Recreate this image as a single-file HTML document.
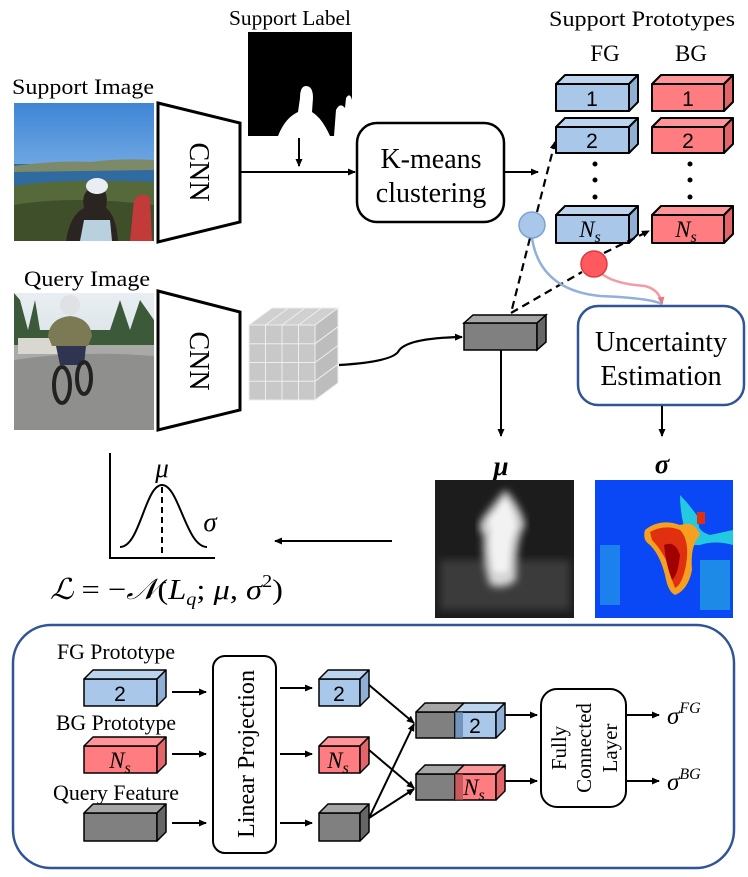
<!DOCTYPE html>
<html><head><meta charset="utf-8"><style>
html,body{margin:0;padding:0;background:#fff}
svg{display:block}
text{font-family:"Liberation Serif",serif;fill:#000}
.s{font-family:"Liberation Sans",sans-serif}
</style></head><body>
<svg width="748" height="877" viewBox="0 0 748 877" xmlns="http://www.w3.org/2000/svg">
<defs>
<marker id="a" markerWidth="8" markerHeight="8" refX="7" refY="4" orient="auto" markerUnits="userSpaceOnUse"><path d="M0,0.5 L8,4 L0,7.5 Z" fill="#000"/></marker>
<marker id="ab" markerWidth="8" markerHeight="8" refX="7" refY="4" orient="auto" markerUnits="userSpaceOnUse"><path d="M0,0.5 L8,4 L0,7.5 Z" fill="#e27b84"/></marker>
<filter id="bl"><feGaussianBlur stdDeviation="4"/></filter>
<filter id="bl2"><feGaussianBlur stdDeviation="2"/></filter>
<linearGradient id="sky" x1="0" y1="0" x2="0" y2="1"><stop offset="0" stop-color="#3f86d6"/><stop offset="1" stop-color="#a8cdf0"/></linearGradient>
<linearGradient id="qsky" x1="0" y1="0" x2="0" y2="1"><stop offset="0" stop-color="#e8eef2"/><stop offset="1" stop-color="#c9d3d8"/></linearGradient>
<clipPath id="c1"><rect x="14" y="103" width="140" height="138"/></clipPath>
<clipPath id="c2"><rect x="14" y="293" width="140" height="137"/></clipPath>
<clipPath id="c3"><rect x="435" y="480" width="139" height="138"/></clipPath>
<clipPath id="c4"><rect x="595" y="480" width="138" height="138"/></clipPath>
<clipPath id="c5"><rect x="248" y="32" width="104" height="104"/></clipPath>
</defs>

<!-- Top labels -->
<text x="229" y="25" font-size="21" textLength="122" lengthAdjust="spacingAndGlyphs">Support Label</text>
<text x="549" y="26" font-size="22" textLength="186" lengthAdjust="spacingAndGlyphs">Support Prototypes</text>
<text x="605" y="61" font-size="23" text-anchor="middle">FG</text>
<text x="691" y="61" font-size="23" text-anchor="middle">BG</text>
<text x="12" y="94" font-size="22" textLength="142" lengthAdjust="spacingAndGlyphs">Support Image</text>
<text x="24" y="286" font-size="22" textLength="126" lengthAdjust="spacingAndGlyphs">Query Image</text>

<!-- Support label mask -->
<g clip-path="url(#c5)">
<rect x="248" y="32" width="104" height="104" fill="#000"/>
<path d="M278,136 Q285,118 298,112 L300,98 Q300,86 306,86 Q313,86 313,98 L312,112 Q322,118 330,136 Z" fill="#fff"/>
<path d="M334,136 L336,110 Q340,102 345,108 L346,98 Q350,92 352,100 L352,136 Z" fill="#fff"/>
</g>

<!-- Support image -->
<g clip-path="url(#c1)">
<rect x="14" y="103" width="140" height="138" fill="url(#sky)"/>
<rect x="14" y="164" width="140" height="22" fill="#2f6aa0"/>
<path d="M14,166 Q60,160 90,162 Q120,158 154,160 L154,170 L14,172 Z" fill="#7d8a6a"/>
<path d="M14,186 Q60,178 154,182 L154,241 L14,241 Z" fill="#56693a"/>
<path d="M14,205 Q70,195 154,205 L154,241 L14,241 Z" fill="#3e4f2a"/>
<path d="M66,241 Q70,215 84,208 Q80,190 96,186 Q110,188 106,208 Q116,215 118,241 Z" fill="#2a2520"/>
<ellipse cx="97" cy="186" rx="11" ry="8" fill="#e8eef2"/>
<path d="M80,241 L84,220 L110,220 L112,241 Z" fill="#b9d0df"/>
<path d="M130,241 L134,200 Q142,190 150,198 L152,241 Z" fill="#c23a3a"/>
</g>

<!-- Query image -->
<g clip-path="url(#c2)">
<rect x="14" y="293" width="140" height="137" fill="url(#qsky)"/>
<path d="M14,293 L14,360 L154,360 L154,320 L140,300 L130,330 L120,300 L110,330 L40,330 L35,300 L28,330 L20,300 Z" fill="#3c5a3a"/>
<rect x="14" y="345" width="140" height="85" fill="#a9aaa8"/>
<path d="M14,360 Q80,350 154,356 L154,430 L14,430 Z" fill="#8f908e"/>
<rect x="18" y="338" width="40" height="16" fill="#d8d8d0"/>
<ellipse cx="70" cy="305" rx="10" ry="10" fill="#dfe1e5"/>
<path d="M48,336 Q50,318 70,316 Q90,318 92,336 L88,346 L52,346 Z" fill="#7b7a55"/>
<path d="M56,346 L86,346 L84,365 L60,365 Z" fill="#2f3550"/>
<ellipse cx="62" cy="385" rx="8" ry="18" fill="none" stroke="#222" stroke-width="4"/>
<ellipse cx="84" cy="378" rx="7" ry="16" fill="none" stroke="#222" stroke-width="4"/>
</g>

<!-- CNNs -->
<polygon points="158,103 240,123 240,222 158,242" fill="#fff" stroke="#000" stroke-width="3"/>
<text transform="translate(190,172) rotate(90)" font-size="28" text-anchor="middle">CNN</text>
<polygon points="158,291 240,312 240,410 158,430" fill="#fff" stroke="#000" stroke-width="3"/>
<text transform="translate(190,361) rotate(90)" font-size="28" text-anchor="middle">CNN</text>

<!-- Support arrows -->
<line x1="240" y1="172" x2="355" y2="172" stroke="#000" stroke-width="2" marker-end="url(#a)"/>
<line x1="299" y1="138" x2="299" y2="166" stroke="#000" stroke-width="2" marker-end="url(#a)"/>

<!-- K-means -->
<rect x="357" y="123" width="147" height="99" rx="20" fill="#fff" stroke="#000" stroke-width="2.5"/>
<text x="431" y="168" font-size="28" text-anchor="middle">K-means</text>
<text x="431" y="202" font-size="28" text-anchor="middle">clustering</text>
<line x1="504" y1="172" x2="538" y2="172" stroke="#000" stroke-width="2" marker-end="url(#a)"/>

<!-- FG prototypes -->
<g stroke="#000" stroke-width="2" stroke-linejoin="round">
<rect x="556" y="84" width="73" height="27" fill="#a9c7e8"/>
<polygon points="556,84 565,75 638,75 629,84" fill="#bcd4ee"/>
<polygon points="629,84 638,75 638,102 629,111" fill="#8fb0d4"/>
<rect x="556" y="127" width="73" height="26" fill="#a9c7e8"/>
<polygon points="556,127 565,118 638,118 629,127" fill="#bcd4ee"/>
<polygon points="629,127 638,118 638,144 629,153" fill="#8fb0d4"/>
<rect x="556" y="215" width="73" height="28" fill="#a9c7e8"/>
<polygon points="556,215 565,206 638,206 629,215" fill="#bcd4ee"/>
<polygon points="629,215 638,206 638,234 629,243" fill="#8fb0d4"/>
<rect x="652" y="84" width="72" height="27" fill="#ff7c80"/>
<polygon points="652,84 661,75 733,75 724,84" fill="#ff9598"/>
<polygon points="724,84 733,75 733,102 724,111" fill="#e36469"/>
<rect x="652" y="127" width="72" height="26" fill="#ff7c80"/>
<polygon points="652,127 661,118 733,118 724,127" fill="#ff9598"/>
<polygon points="724,127 733,118 733,144 724,153" fill="#e36469"/>
<rect x="652" y="215" width="72" height="28" fill="#ff7c80"/>
<polygon points="652,215 661,206 733,206 724,215" fill="#ff9598"/>
<polygon points="724,215 733,206 733,234 724,243" fill="#e36469"/>
</g>
<text class="s" x="592" y="106" font-size="21" text-anchor="middle">1</text>
<text class="s" x="592" y="148" font-size="21" text-anchor="middle">2</text>
<text class="s" x="688" y="106" font-size="21" text-anchor="middle">1</text>
<text class="s" x="688" y="148" font-size="21" text-anchor="middle">2</text>
<text x="590" y="237" font-size="23" font-style="italic" text-anchor="middle">N<tspan font-size="16" dy="5">s</tspan></text>
<text x="686" y="237" font-size="23" font-style="italic" text-anchor="middle">N<tspan font-size="16" dy="5">s</tspan></text>
<g fill="#000">
<circle cx="595" cy="164" r="2.5"/><circle cx="595" cy="180" r="2.5"/><circle cx="595" cy="197" r="2.5"/>
<circle cx="690" cy="164" r="2.5"/><circle cx="690" cy="180" r="2.5"/><circle cx="690" cy="197" r="2.5"/>
</g>

<!-- Dashed connectors -->
<g stroke="#000" stroke-width="2.2" stroke-dasharray="8,5" fill="none">
<line x1="537" y1="212" x2="555" y2="142" marker-end="url(#a)"/>
<line x1="530" y1="238" x2="511" y2="313"/>
<line x1="511" y1="313" x2="582" y2="272"/>
<line x1="604" y1="253" x2="649" y2="231" marker-end="url(#a)"/>
</g>
<path d="M532,238 Q540,290 600,296 Q650,298 662,304" fill="none" stroke="#92b0dc" stroke-width="2.5"/>
<path d="M602,274 Q615,284 645,286 Q660,290 662,304" fill="none" stroke="#f29ca3" stroke-width="2.5" marker-end="url(#ab)"/>
<circle cx="532" cy="225" r="13" fill="#a9c7e8" stroke="#7aa3d6" stroke-width="1.5"/>
<circle cx="594" cy="264" r="13" fill="#ff5a5f" stroke="#e03a40" stroke-width="1.5"/>

<!-- Uncertainty box -->
<rect x="578" y="306" width="166" height="99" rx="20" fill="#fff" stroke="#2f5597" stroke-width="2.5"/>
<text x="661" y="351" font-size="28" text-anchor="middle">Uncertainty</text>
<text x="661" y="385" font-size="28" text-anchor="middle">Estimation</text>
<line x1="662" y1="406" x2="662" y2="436" stroke="#000" stroke-width="2" marker-end="url(#a)"/>

<!-- Feature stack -->
<g stroke="#eee" stroke-width="1">
<polygon points="249,325 272,308 338,308 315,325" fill="#d0d0d0"/>
<polygon points="315,325 338,308 338,383 315,400" fill="#bdbdbd"/>
<rect x="249" y="325" width="66" height="75" fill="#c8c8c8"/>
<line x1="265.5" y1="325" x2="265.5" y2="400"/><line x1="282" y1="325" x2="282" y2="400"/><line x1="298.5" y1="325" x2="298.5" y2="400"/>
<line x1="249" y1="343.7" x2="315" y2="343.7"/><line x1="249" y1="362.5" x2="315" y2="362.5"/><line x1="249" y1="381.2" x2="315" y2="381.2"/>
<line x1="265.5" y1="325" x2="288.5" y2="308"/><line x1="282" y1="325" x2="305" y2="308"/><line x1="298.5" y1="325" x2="321.5" y2="308"/>
<line x1="315" y1="343.7" x2="338" y2="326.7"/><line x1="315" y1="362.5" x2="338" y2="345.5"/><line x1="315" y1="381.2" x2="338" y2="364.2"/>
</g>
<path d="M339,365 Q390,362 398,352 Q405,338 462,337" fill="none" stroke="#000" stroke-width="2.2" marker-end="url(#a)"/>

<!-- Query feature gray box -->
<g stroke="#000" stroke-width="1.5">
<rect x="464" y="323" width="73" height="27" fill="#808080"/>
<polygon points="464,323 473,315 546,315 537,323" fill="#a6a6a6"/>
<polygon points="537,323 546,315 546,342 537,350" fill="#666"/>
</g>
<line x1="501" y1="350" x2="501" y2="436" stroke="#000" stroke-width="2" marker-end="url(#a)"/>

<!-- mu & sigma maps -->
<text x="501" y="475" font-size="27" font-weight="bold" font-style="italic" text-anchor="middle">μ</text>
<text x="662" y="473" font-size="27" font-weight="bold" font-style="italic" text-anchor="middle">σ</text>
<g clip-path="url(#c3)">
<rect x="435" y="480" width="139" height="138" fill="#1c1c1c"/>
<rect x="440" y="560" width="130" height="50" fill="#3a3a3a" filter="url(#bl)"/>
<path d="M505,490 Q520,505 525,525 Q515,540 516,580 Q505,590 490,585 Q482,560 484,535 Q475,528 485,515 Z" fill="#d8d8d8" filter="url(#bl)"/>
<path d="M505,500 Q515,515 515,528 Q508,540 508,570 Q500,575 494,570 Q490,545 492,530 Q486,522 495,514 Z" fill="#f2f2f2" filter="url(#bl2)"/>
</g>
<g clip-path="url(#c4)">
<rect x="595" y="480" width="138" height="138" fill="#0a48f5"/>
<rect x="600" y="545" width="20" height="60" fill="#2aa8e8" opacity="0.6"/>
<rect x="700" y="560" width="30" height="50" fill="#2ab8e0" opacity="0.6"/>
<path d="M680,495 Q690,505 700,520 Q695,530 710,535 L733,530 L733,545 Q715,540 700,545 L690,545 Q680,520 680,495Z" fill="#22c9e0"/>
<path d="M645,530 Q660,518 680,525 Q695,520 700,535 Q690,545 692,570 Q688,590 675,595 Q668,592 665,575 Q660,555 650,545 Q642,540 645,530Z" fill="#f7a020"/>
<path d="M650,532 Q665,524 680,530 Q690,540 686,565 Q682,585 675,588 Q670,575 666,560 Q660,548 652,540Z" fill="#e03010"/>
<path d="M664,545 Q675,540 680,555 Q678,575 672,580 Q666,565 664,545Z" fill="#a00000"/>
<rect x="697" y="512" width="8" height="12" fill="#e03010"/>
</g>

<!-- Gaussian -->
<polyline points="110,453 110,558 215,558" fill="none" stroke="#000" stroke-width="2"/>
<path d="M120,547 C140,547 145,485 162,485 C179,485 186,547 207,547" fill="none" stroke="#000" stroke-width="2"/>
<line x1="162" y1="487" x2="162" y2="556" stroke="#000" stroke-width="2" stroke-dasharray="6,4"/>
<text x="162" y="477" font-size="27" font-style="italic" text-anchor="middle">μ</text>
<text x="210" y="531" font-size="27" font-style="italic" text-anchor="middle">σ</text>
<line x1="392" y1="541" x2="275" y2="541" stroke="#000" stroke-width="2" marker-end="url(#a)"/>
<text x="50" y="599" font-size="29" font-style="italic" textLength="233" lengthAdjust="spacingAndGlyphs">ℒ <tspan font-style="normal">= −</tspan>𝒩<tspan font-style="normal">(</tspan>L<tspan font-size="18" dy="6">q</tspan><tspan dy="-6" font-style="normal">; </tspan>μ<tspan font-style="normal">, </tspan>σ<tspan font-size="18" dy="-12" font-style="normal">2</tspan><tspan dy="12" font-style="normal">)</tspan></text>

<!-- Bottom panel -->
<rect x="13" y="625" width="721" height="243" rx="38" fill="#fff" stroke="#2f5597" stroke-width="2.5"/>
<text x="57" y="659" font-size="22" textLength="118" lengthAdjust="spacingAndGlyphs">FG Prototype</text>
<text x="56" y="730" font-size="22" textLength="120" lengthAdjust="spacingAndGlyphs">BG Prototype</text>
<text x="53" y="800" font-size="22" textLength="126" lengthAdjust="spacingAndGlyphs">Query Feature</text>
<g stroke="#000" stroke-width="1.5" stroke-linejoin="round">
<rect x="84" y="679" width="73" height="27" fill="#a9c7e8"/>
<polygon points="84,679 93,670 166,670 157,679" fill="#bcd4ee"/>
<polygon points="157,679 166,670 166,697 157,706" fill="#8fb0d4"/>
<rect x="84" y="746" width="73" height="27" fill="#ff7c80"/>
<polygon points="84,746 93,737 166,737 157,746" fill="#ff9598"/>
<polygon points="157,746 166,737 166,764 157,773" fill="#e36469"/>
<rect x="84" y="813" width="73" height="28" fill="#808080"/>
<polygon points="84,813 93,804 166,804 157,813" fill="#a6a6a6"/>
<polygon points="157,813 166,804 166,832 157,841" fill="#666"/>
<rect x="319" y="679" width="41" height="27" fill="#a9c7e8"/>
<polygon points="319,679 328,670 369,670 360,679" fill="#bcd4ee"/>
<polygon points="360,679 369,670 369,697 360,706" fill="#8fb0d4"/>
<rect x="319" y="746" width="41" height="27" fill="#ff7c80"/>
<polygon points="319,746 328,737 369,737 360,746" fill="#ff9598"/>
<polygon points="360,746 369,737 369,764 360,773" fill="#e36469"/>
<rect x="319" y="813" width="41" height="28" fill="#808080"/>
<polygon points="319,813 328,804 369,804 360,813" fill="#a6a6a6"/>
<polygon points="360,813 369,804 369,832 360,841" fill="#666"/>
<rect x="416" y="712" width="39" height="26" fill="#808080"/>
<polygon points="416,712 425,703 464,703 455,712" fill="#a6a6a6"/>
<rect x="455" y="712" width="41" height="26" fill="#a9c7e8"/>
<polygon points="455,712 464,703 505,703 496,712" fill="#bcd4ee"/>
<polygon points="496,712 505,703 505,729 496,738" fill="#8fb0d4"/>
<rect x="416" y="774" width="39" height="26" fill="#808080"/>
<polygon points="416,774 425,765 464,765 455,774" fill="#a6a6a6"/>
<rect x="455" y="774" width="41" height="26" fill="#ff7c80"/>
<polygon points="455,774 464,765 505,765 496,774" fill="#ff9598"/>
<polygon points="496,774 505,765 505,791 496,800" fill="#e36469"/>
</g>
<rect x="455" y="712" width="8" height="26" fill="#5d7fa8" opacity="0.7"/>
<rect x="455" y="774" width="8" height="26" fill="#b04a4f" opacity="0.7"/>
<text class="s" x="120" y="701" font-size="21" text-anchor="middle">2</text>
<text x="120" y="768" font-size="23" font-style="italic" text-anchor="middle">N<tspan font-size="16" dy="5">s</tspan></text>
<text class="s" x="339" y="701" font-size="21" text-anchor="middle">2</text>
<text x="338" y="768" font-size="23" font-style="italic" text-anchor="middle">N<tspan font-size="16" dy="5">s</tspan></text>
<text class="s" x="475" y="733" font-size="21" text-anchor="middle">2</text>
<text x="474" y="795" font-size="23" font-style="italic" text-anchor="middle">N<tspan font-size="16" dy="5">s</tspan></text>

<g stroke="#000" stroke-width="2" marker-end="url(#a)">
<line x1="172" y1="692" x2="206" y2="692"/>
<line x1="172" y1="754" x2="206" y2="754"/>
<line x1="172" y1="823" x2="206" y2="823"/>
<line x1="280" y1="688" x2="312" y2="688"/>
<line x1="280" y1="754" x2="312" y2="754"/>
<line x1="280" y1="823" x2="312" y2="823"/>
<line x1="369" y1="685" x2="414" y2="723"/>
<line x1="369" y1="750" x2="414" y2="788"/>
<line x1="369" y1="818" x2="414" y2="724"/>
<line x1="369" y1="818" x2="414" y2="789"/>
<line x1="505" y1="715" x2="537" y2="715"/>
<line x1="505" y1="781" x2="537" y2="781"/>
<line x1="626" y1="715" x2="659" y2="715"/>
<line x1="626" y1="781" x2="659" y2="781"/>
</g>
<rect x="213" y="656" width="63" height="197" rx="12" fill="#fff" stroke="#000" stroke-width="2"/>
<text transform="translate(254,754) rotate(-90)" font-size="24" text-anchor="middle" textLength="168" lengthAdjust="spacingAndGlyphs">Linear Projection</text>
<rect x="541" y="689" width="85" height="118" rx="16" fill="#fff" stroke="#000" stroke-width="2"/>
<text transform="translate(583,748) rotate(-90)" font-size="21" text-anchor="middle"><tspan x="0" dy="-17">Fully</tspan><tspan x="0" dy="25">Connected</tspan><tspan x="0" dy="26">Layer</tspan></text>
<text x="667" y="724" font-size="25" font-style="italic">σ<tspan font-size="16" dy="-11">FG</tspan></text>
<text x="667" y="790" font-size="25" font-style="italic">σ<tspan font-size="16" dy="-11">BG</tspan></text>
</svg>
</body></html>
